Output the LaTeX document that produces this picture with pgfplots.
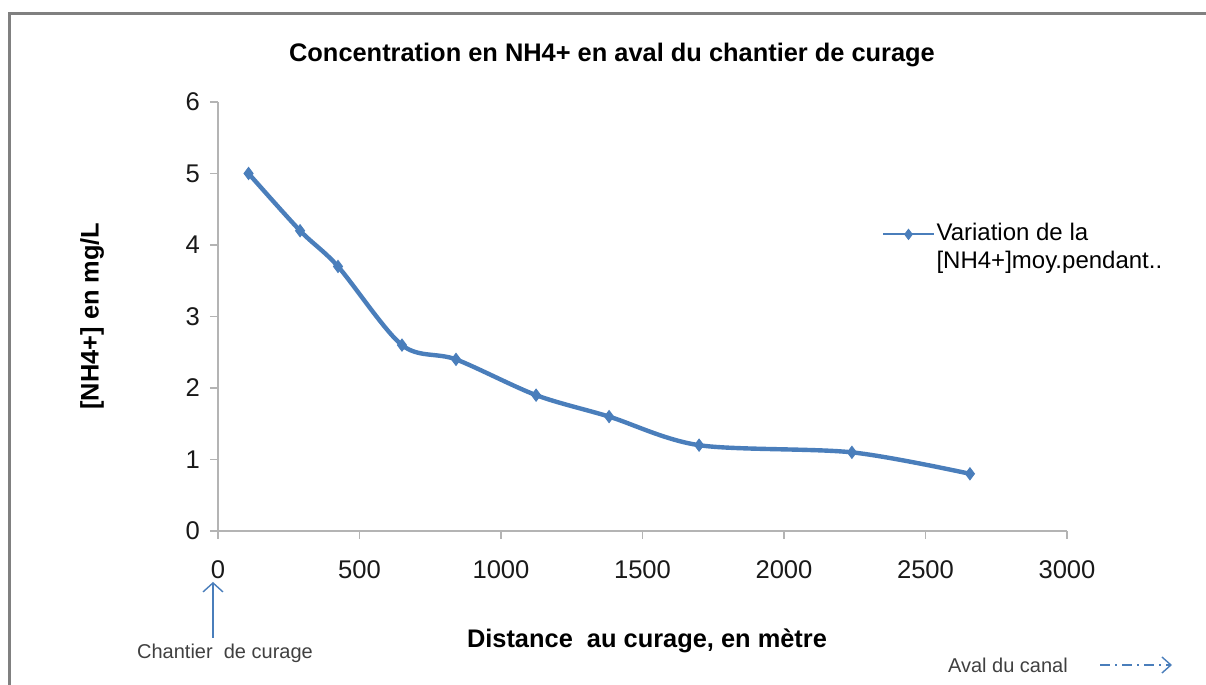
\documentclass[border=0pt]{standalone}
\usepackage{fontspec}
\setmainfont{Liberation Sans}
\usepackage{pgfplots}
\pgfplotsset{compat=1.18}
\usetikzlibrary{arrows.meta}
\definecolor{xlblue}{RGB}{74,126,187}
\definecolor{axgray}{RGB}{180,180,180}
\definecolor{framegray}{RGB}{128,128,128}

\begin{document}
\begin{tikzpicture}
% picture size in px of the reference, 1 px = 0.5pt
\begin{scope}[x=0.5pt,y=0.5pt]
\useasboundingbox (0,0) rectangle (1206,685);
\draw[framegray,line width=1.5pt] (9,0) -- (9,671) -- (1206,671);
\end{scope}

\begin{axis}[
  at={(109pt,77pt)},anchor=south west,
  scale only axis,width=424.5pt,height=214.5pt,
  xmin=0,xmax=3000,ymin=0,ymax=6,
  xtick={0,500,...,3000},ytick={0,1,...,6},
  axis x line=bottom,axis y line=left,
  axis line style={draw=axgray,line width=0.8pt,-},
  tick style={axgray,line width=0.8pt},
  tick align=outside,major tick length=4pt,
  /pgf/number format/1000 sep={},
  /pgf/number format/assume math mode=true,
  ticklabel style={font=\fontsize{12.8}{15}\selectfont,text=black!90},
  xticklabel style={yshift=-7.5pt},
  yticklabel style={xshift=-1.5pt},
  legend style={draw=none,fill=none,at={(0.775,0.732)},anchor=north west,
    font=\fontsize{12}{14}\selectfont,
    nodes={inner sep=1pt,text depth=0.25em,text height=0.85em},
    row sep=1pt},
  legend cell align=left,
  legend image code/.code={\draw[line width=1.1pt,mark repeat=2,mark phase=2,
    mark size=2.5pt] plot coordinates {(0pt,0pt)(12.5pt,0pt)(25pt,0pt)};},
]
\addplot[xlblue,line width=2.2pt,smooth,tension=0.5,mark=diamond*,
  mark size=3pt,mark options={fill=xlblue,line width=0.5pt}] coordinates {
  (108,5.0) (290,4.2) (424,3.7) (650,2.6) (841,2.4) (1124,1.9)
  (1382,1.6) (1700,1.2) (2240,1.1) (2657,0.8)};
\addlegendentry{Variation de la}
\addlegendimage{empty legend}
\addlegendentry{[NH4+]moy.pendant..}
\end{axis}

\begin{scope}[x=0.5pt,y=0.5pt]
\node[font=\bfseries\fontsize{12.7}{15}\selectfont] at (612,630)
  {Concentration en NH4+ en aval du chantier de curage};
\node[font=\bfseries\fontsize{12.7}{15}\selectfont,rotate=90] at (92,369)
  {[NH4+] en mg/L};
\node[font=\bfseries\fontsize{12.7}{15}\selectfont] at (647,44)
  {Distance\ \ au curage, en mètre};
\node[font=\fontsize{10}{12}\selectfont,text=black!75] at (225,32)
  {Chantier\ \ de curage};
\node[font=\fontsize{10}{12}\selectfont,text=black!75,anchor=west] at (941,20)
  {Aval du canal};
\draw[xlblue,line width=0.7pt,-{Straight Barb[length=4.5pt,width=10pt]}]
  (213,47) -- (213,103);
\draw[xlblue,line width=0.7pt,dash pattern=on 5pt off 2.5pt on 1pt off 2.5pt,
  -{Straight Barb[length=4.5pt,width=8pt]}] (1100,20) -- (1172,20);
\end{scope}
\end{tikzpicture}
\end{document}
